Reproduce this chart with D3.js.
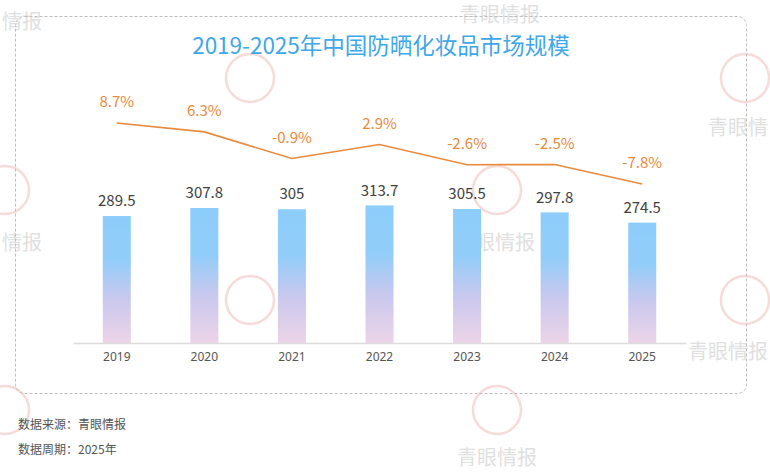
<!DOCTYPE html>
<html>
<head>
<meta charset="utf-8">
<script src="https://cdn.jsdelivr.net/npm/d3@7"></script>
<style>
  body { margin: 0; background: #fff; }
  svg { display: block; font-family: "Noto Sans CJK SC", "Noto Sans", sans-serif; }
</style>
</head>
<body>
<script>
var width = 770, height = 472;

var years = ['2019', '2020', '2021', '2022', '2023', '2024', '2025'];
var marketSize = [289.5, 307.8, 305, 313.7, 305.5, 297.8, 274.5];
var growthRate = [8.7, 6.3, -0.9, 2.9, -2.6, -2.5, -7.8];
var growthLabels = ['8.7%', '6.3%', '-0.9%', '2.9%', '-2.6%', '-2.5%', '-7.8%'];

// watermark spots, purely decorative: [x, y, anchor, text]
var marks = [
    [500, 15, 'middle', '青眼情报'],
    [2, 22, 'start', '情报'],
    [768, 128, 'end', '青眼情'],
    [2, 243, 'start', '情报'],
    [495, 243, 'middle', '青眼情报'],
    [768, 352, 'end', '青眼情报'],
    [497, 458, 'middle', '青眼情报']
];
var logos = [[250, 78], [745, 78], [5, 190], [497, 190], [250, 300], [745, 300], [5, 410], [497, 410]];

var svg = d3.select('body').append('svg')
    .attr('width', width)
    .attr('height', height);

var defs = svg.append('defs');
var grad = defs.append('linearGradient')
    .attr('id', 'barGrad')
    .attr('x1', 0).attr('y1', 0).attr('x2', 0).attr('y2', 1);
grad.append('stop').attr('offset', '0%').attr('stop-color', '#8dcdfb');
grad.append('stop').attr('offset', '35%').attr('stop-color', '#92cdf9');
grad.append('stop').attr('offset', '65%').attr('stop-color', '#c9c8ee');
grad.append('stop').attr('offset', '100%').attr('stop-color', '#ecd4e8');

// watermarks
var wm = svg.append('g').attr('opacity', 0.6);
wm.selectAll('circle.logo')
    .data(logos)
    .enter().append('circle')
    .attr('class', 'logo')
    .attr('cx', d => d[0])
    .attr('cy', d => d[1])
    .attr('r', 24)
    .attr('fill', 'none')
    .attr('stroke', '#f0c4c0')
    .attr('stroke-width', 2.5);
wm.selectAll('text.wm')
    .data(marks)
    .enter().append('text')
    .attr('class', 'wm')
    .attr('x', d => d[0])
    .attr('y', d => d[1])
    .attr('dy', '.35em')
    .attr('text-anchor', d => d[2])
    .attr('font-size', '20px')
    .attr('fill', '#cccccc')
    .text(d => d[3]);

// dashed frame
svg.append('rect')
    .attr('x', 15.5).attr('y', 16.5)
    .attr('width', 731).attr('height', 377)
    .attr('rx', 9)
    .attr('fill', 'none')
    .attr('stroke', '#bdbdbd')
    .attr('stroke-dasharray', '3,2');

svg.append('text')
    .attr('x', 381)
    .attr('y', 46)
    .attr('dy', '.35em')
    .attr('text-anchor', 'middle')
    .attr('font-size', '22.5px')
    .attr('fill', '#3ea8e8')
    .text('2019-2025年中国防晒化妆品市场规模');

var x = d3.scaleBand()
    .domain(years)
    .range([73, 686])
    .paddingInner(0.68)
    .paddingOuter(0.34);

var y = d3.scaleLinear()
    .domain([0, 700])
    .range([343, 36]);

var yLine = d3.scaleLinear()
    .domain([-10, 10])
    .range([192.2, 118.2]);

var cx = d => x(d) + x.bandwidth() / 2;

// bars
svg.append('g').selectAll('rect')
    .data(marketSize)
    .enter().append('rect')
    .attr('x', (d, i) => x(years[i]))
    .attr('y', d => y(d))
    .attr('width', x.bandwidth())
    .attr('height', d => y(0) - y(d))
    .attr('fill', 'url(#barGrad)');

svg.append('g').selectAll('text')
    .data(marketSize)
    .enter().append('text')
    .attr('x', (d, i) => cx(years[i]))
    .attr('y', d => y(d) - 15)
    .attr('dy', '.35em')
    .attr('text-anchor', 'middle')
    .attr('font-size', '15px')
    .attr('fill', '#404040')
    .text(d => d);

// x axis
var xAxis = svg.append('g')
    .attr('transform', 'translate(0,' + y(0) + ')')
    .call(d3.axisBottom(x).tickSize(0).tickPadding(9));
xAxis.select('.domain').attr('stroke', '#dcdcdc').attr('stroke-width', 1.5);
xAxis.selectAll('text')
    .attr('font-size', '12px')
    .attr('fill', '#555')
    .attr('font-family', '"Noto Sans", sans-serif');

// growth line
var line = d3.line()
    .x((d, i) => cx(years[i]))
    .y(d => yLine(d));

svg.append('path')
    .datum(growthRate)
    .attr('d', line)
    .attr('fill', 'none')
    .attr('stroke', '#e98a3c')
    .attr('stroke-width', 1.6);

svg.append('g').selectAll('text')
    .data(growthRate)
    .enter().append('text')
    .attr('x', (d, i) => cx(years[i]))
    .attr('y', d => yLine(d) - 21)
    .attr('dy', '.35em')
    .attr('text-anchor', 'middle')
    .attr('font-size', '15px')
    .attr('fill', '#e98a3c')
    .text((d, i) => growthLabels[i]);

// footnotes
svg.append('text')
    .attr('x', 18).attr('y', 425).attr('dy', '.35em')
    .attr('font-size', '12px').attr('fill', '#555')
    .text('数据来源：青眼情报');
svg.append('text')
    .attr('x', 18).attr('y', 450).attr('dy', '.35em')
    .attr('font-size', '12px').attr('fill', '#555')
    .text('数据周期：2025年');
</script>
</body>
</html>
